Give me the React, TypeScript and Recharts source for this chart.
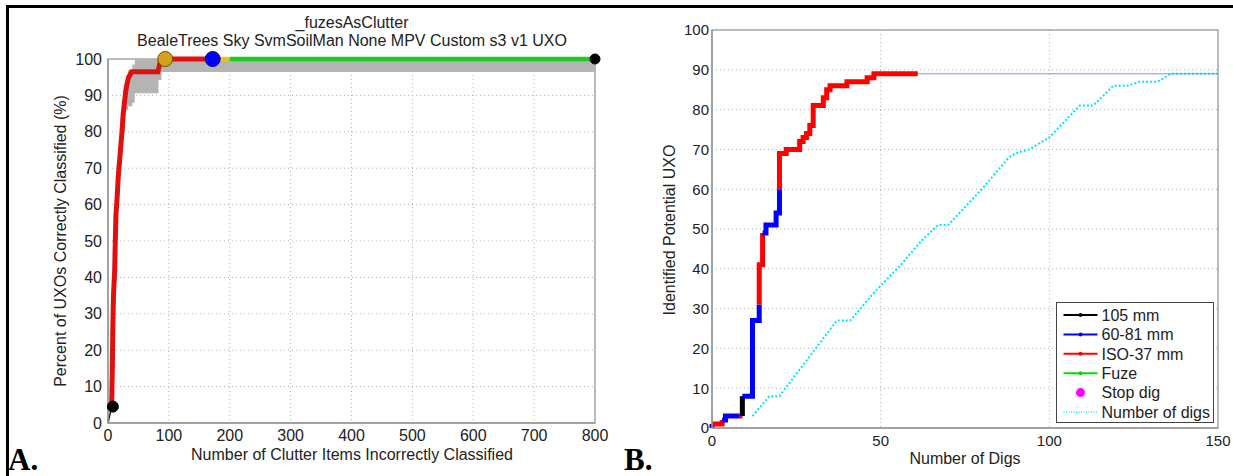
import React from "react";
import {
  ComposedChart,
  Line,
  Area,
  Scatter,
  XAxis,
  YAxis,
  CartesianGrid,
  ReferenceArea,
  Legend,
} from "recharts";

const FONT = '"Liberation Sans", Arial, Helvetica, sans-serif';

// ---------- panel A : clutter vs. UXO ----------
const aTicksX = [0, 100, 200, 300, 400, 500, 600, 700, 800];
const aTicksY = [0, 10, 20, 30, 40, 50, 60, 70, 80, 90, 100];

// gray confidence band (step)
const bandX = [17, 20, 24, 28, 33, 40, 44, 83, 88, 800];
const bandLow = [70, 74, 80, 86, 87, 88, 90.6, 94.2, 96.4, 96.4];
const bandHigh = [76, 80, 88, 94, 97, 98.5, 100, 100, 100, 100];

// red ROC curve
const rocX = [6, 7, 8, 9, 11, 12, 13, 15, 17, 19, 21, 23, 25, 27, 29, 31, 34, 39, 82, 84, 87, 175];
const rocY = [4.5, 14, 27, 35, 42, 50, 57, 62, 68, 72, 76, 80, 85, 88, 91, 93, 95, 96.5, 96.5, 98, 100, 100];

const startX = [0, 6];
const startY = [0, 4.5];
const yellowX = [175, 200];
const yellowY = [100, 100];
const greenX = [200, 800];
const greenY = [100, 100];

// operating point markers
const markerX = [8, 94, 172, 800];
const markerY = [4.5, 100, 100, 100];
const markerFill = ["#000000", "#d6a11c", "#0000ff", "#000000"];
const markerStroke = ["#000000", "#6b5200", "#000080", "#000000"];
const markerR = [5.5, 7.5, 7.5, 5];

// ---------- panel B : digs ----------
const bTicksX = [0, 50, 100, 150];
const bTicksY = [0, 10, 20, 30, 40, 50, 60, 70, 80, 90, 100];

// cumulative identified curve (stepAfter corners) with category of each rise
const stepX = [0, 0, 3, 4, 8, 9, 9, 12, 14, 14, 15, 16, 19, 20, 20, 22, 26, 27, 28, 29, 30, 33, 34, 35, 40, 46, 48, 61];
const stepY = [0, 1, 2, 3, 3, 3, 8, 27, 31, 41, 49, 51, 54, 60, 69, 70, 72, 73, 74, 76, 81, 83, 85, 86, 87, 88, 89, 89];
const stepCat = ["Fuze", "60-81 mm", "ISO-37 mm", "60-81 mm", "60-81 mm", "ISO-37 mm", "105 mm", "60-81 mm", "60-81 mm", "ISO-37 mm", "ISO-37 mm", "60-81 mm", "60-81 mm", "60-81 mm", "ISO-37 mm", "ISO-37 mm", "ISO-37 mm", "ISO-37 mm", "ISO-37 mm", "ISO-37 mm", "ISO-37 mm", "ISO-37 mm", "ISO-37 mm", "ISO-37 mm", "ISO-37 mm", "ISO-37 mm", "ISO-37 mm", "ISO-37 mm"];

const tailX = [61, 150];
const tailY = [89, 89];

// number of digs (cyan dotted)
const digsX = [12, 17, 20, 37, 41, 48, 56, 62, 67, 70, 80, 88, 90, 94, 100, 109, 113, 119, 123, 127, 132, 136, 150];
const digsY = [3, 8, 8, 27, 27, 34, 41, 47, 51, 51, 60, 68, 69, 70, 73, 81, 81, 86, 86, 87, 87, 89, 89];

const legendNames = ["105 mm", "60-81 mm", "ISO-37 mm", "Fuze", "Stop dig", "Number of digs"];
const legendColors = ["#000000", "#0000ff", "#ff0000", "#00e000", "#ff00ff", "#00ffff"];

const catColor: Record<string, string> = {
  "105 mm": "#000000",
  "60-81 mm": "#0000ff",
  "ISO-37 mm": "#ff0000",
  Fuze: "#00d000",
};

const pts = (xs: number[], ys: number[]) => xs.map((x, i) => ({ x, y: ys[i] }));

// split the step curve into same-colour runs
const buildSegments = () => {
  const segs: { cat: string; data: { x: number; y: number }[] }[] = [];
  segs.push({ cat: stepCat[0], data: [{ x: stepX[0], y: stepY[0] }, { x: stepX[0], y: stepY[0] }] });
  for (let i = 1; i < stepX.length; i++) {
    const last = segs[segs.length - 1];
    const p = { x: stepX[i], y: stepY[i] };
    if (last.cat === stepCat[i]) last.data.push(p);
    else segs.push({ cat: stepCat[i], data: [{ x: stepX[i - 1], y: stepY[i - 1] }, p] });
  }
  return segs;
};

const tickStyle = (size: number) => ({ fill: "#222", fontSize: size, fontFamily: FONT });

const ChartA = () => {
  const bandData = bandX.map((x, i) => ({ x, band: [bandLow[i], bandHigh[i]] }));
  return (
    <ComposedChart
      width={620}
      height={476}
      data={bandData}
      margin={{ top: 59, right: 25, bottom: 23, left: 68 }}
    >
      <CartesianGrid stroke="#b0b0b0" strokeDasharray="1 3" />
      <XAxis
        type="number"
        dataKey="x"
        domain={[0, 800]}
        ticks={aTicksX}
        height={30}
        tickSize={5}
        tickMargin={2}
        tickLine={false}
        axisLine={{ stroke: "#9a9a9a", strokeWidth: 1.5 }}
        tick={tickStyle(16)}
      />
      <YAxis
        type="number"
        dataKey="y"
        domain={[0, 100]}
        ticks={aTicksY}
        width={40}
        tickSize={4}
        tickMargin={2}
        tickLine={false}
        axisLine={{ stroke: "#9a9a9a", strokeWidth: 1.5 }}
        tick={tickStyle(16)}
      />
      <ReferenceArea x1={0} x2={800} y1={0} y2={100} fill="none" stroke="#a8a8a8" strokeWidth={1.5} />
      <Area
        type="stepAfter"
        dataKey="band"
        fill="#b4b4b4"
        fillOpacity={1}
        stroke="none"
        isAnimationActive={false}
      />
      <Line data={pts(startX, startY)} dataKey="y" type="linear" stroke="#222" strokeWidth={1.5} dot={false} isAnimationActive={false} />
      <Line data={pts(yellowX, yellowY)} dataKey="y" type="linear" stroke="#e8c020" strokeWidth={4.5} dot={false} isAnimationActive={false} />
      <Line data={pts(greenX, greenY)} dataKey="y" type="linear" stroke="#22c822" strokeWidth={4.5} dot={false} isAnimationActive={false} />
      <Line data={pts(rocX, rocY)} dataKey="y" type="linear" stroke="#e01010" strokeWidth={5} dot={false} isAnimationActive={false} />
      {markerX.map((mx, i) => (
        <Scatter
          key={i}
          data={[{ x: mx, y: markerY[i] }]}
          dataKey="y"
          isAnimationActive={false}
          shape={(p: any) => (
            <circle cx={p.cx} cy={p.cy} r={markerR[i]} fill={markerFill[i]} stroke={markerStroke[i]} strokeWidth={1} />
          )}
        />
      ))}
    </ComposedChart>
  );
};

const renderLegend = () => (
  <svg width={158} height={121} style={{ display: "block" }}>
    <rect x={0.5} y={0.5} width={157} height={120} fill="#fff" stroke="#444" />
    {legendNames.map((name, i) => {
      const cy = 13 + i * 19.4;
      const c = legendColors[i];
      return (
        <g key={name}>
          {i < 4 && <line x1={7.5} x2={41.5} y1={cy} y2={cy} stroke={c} strokeWidth={2} />}
          {i < 4 && <circle cx={24.5} cy={cy} r={2} fill={c} />}
          {i === 4 && <circle cx={24.5} cy={cy} r={4.5} fill={c} />}
          {i === 5 && <line x1={7.5} x2={41.5} y1={cy} y2={cy} stroke={c} strokeWidth={1.5} strokeDasharray="1 1.5" />}
          <text x={45.5} y={cy + 5.7} fontSize={16} fontFamily={FONT} fill="#222">
            {name}
          </text>
        </g>
      );
    })}
  </svg>
);

const ChartB = () => {
  const segs = buildSegments();
  return (
    <ComposedChart width={613} height={476} margin={{ top: 30, right: 15, bottom: 18, left: 52 }}>
      <CartesianGrid stroke="#b0b0b0" strokeDasharray="1 3" />
      <XAxis
        type="number"
        dataKey="x"
        domain={[0, 150]}
        ticks={bTicksX}
        height={30}
        tickSize={5}
        tickMargin={2}
        tickLine={false}
        axisLine={{ stroke: "#9a9a9a", strokeWidth: 1.5 }}
        tick={tickStyle(15)}
      />
      <YAxis
        type="number"
        dataKey="y"
        domain={[0, 100]}
        ticks={bTicksY}
        width={40}
        tickSize={1}
        tickMargin={2}
        tickLine={false}
        axisLine={{ stroke: "#9a9a9a", strokeWidth: 1.5 }}
        tick={tickStyle(15)}
      />
      <ReferenceArea x1={0} x2={150} y1={0} y2={100} fill="none" stroke="#a8a8a8" strokeWidth={1.5} />
      <Line data={pts(digsX, digsY)} dataKey="y" type="linear" stroke="#00e5ff" strokeWidth={2} strokeDasharray="2 2" dot={false} isAnimationActive={false} />
      <Line data={pts(tailX, tailY)} dataKey="y" type="linear" stroke="#8a8aff" strokeWidth={1} dot={false} isAnimationActive={false} />
      {segs.map((s, i) => (
        <Line
          key={i}
          data={s.data}
          dataKey="y"
          type="stepAfter"
          stroke={catColor[s.cat]}
          strokeWidth={5}
          dot={false}
          isAnimationActive={false}
        />
      ))}
      <Legend
        layout="vertical"
        align="center"
        verticalAlign="middle"
        content={renderLegend}
        wrapperStyle={{ position: "absolute", left: 436, top: 302, width: 158, height: 121, bottom: "auto", right: "auto", margin: 0 }}
      />
    </ComposedChart>
  );
};

export default function App() {
  return (
    <div
      style={{
        position: "fixed",
        left: 0,
        top: 0,
        width: 1233,
        height: 476,
        background: "#fff",
        overflow: "hidden",
      }}
    >
      <div style={{ position: "absolute", left: 0, top: 0 }}>
        <ChartA />
      </div>
      <div style={{ position: "absolute", left: 620, top: 0 }}>
        <ChartB />
      </div>
      <svg width={1233} height={476} style={{ position: "absolute", left: 0, top: 0, pointerEvents: "none" }}>
        <rect x={6} y={5} width={1227} height={3} fill="#000" />
        <rect x={6} y={5} width={3} height={471} fill="#000" />
        <g fontFamily={FONT} fontSize={16} fill="#222" textAnchor="middle">
          <text x={352} y={28}>_fuzesAsClutter</text>
          <text x={352} y={46}>BealeTrees Sky SvmSoilMan None MPV Custom s3 v1 UXO</text>
          <text x={352} y={460}>Number of Clutter Items Incorrectly Classified</text>
          <text transform="translate(66,241) rotate(-90)">Percent of UXOs Correctly Classified (%)</text>
          <text x={965} y={464}>Number of Digs</text>
          <text transform="translate(675,230) rotate(-90)">Identified Potential UXO</text>
        </g>
        <g fontFamily='"Liberation Serif", "Times New Roman", serif' fontSize={31} fontWeight="bold" fill="#000">
          <text x={8} y={470}>A.</text>
          <text x={624} y={470}>B.</text>
        </g>
      </svg>
    </div>
  );
}
